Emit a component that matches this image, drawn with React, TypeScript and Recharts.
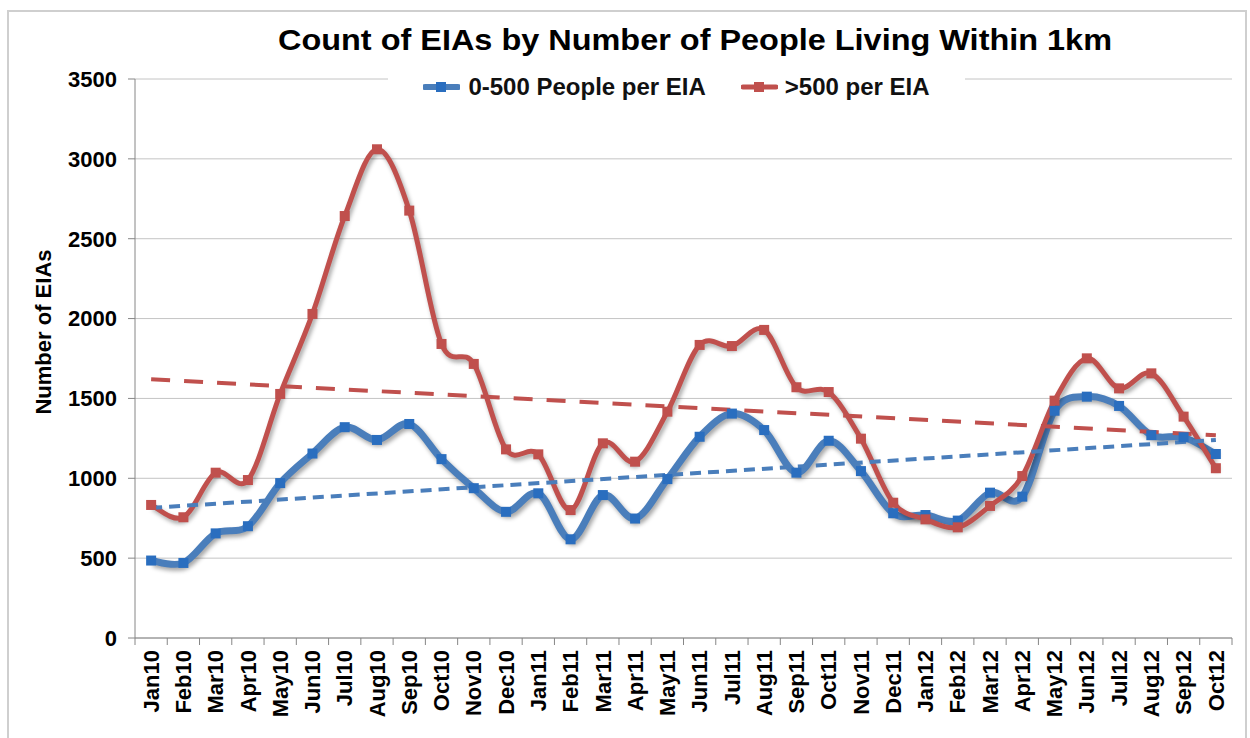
import React from "react";
import { LineChart, Line, XAxis, YAxis, CartesianGrid, ReferenceLine, Label } from "recharts";

const months = [
  "Jan10", "Feb10", "Mar10", "Apr10", "May10", "Jun10", "Jul10", "Aug10", "Sep10", "Oct10", "Nov10", "Dec10",
  "Jan11", "Feb11", "Mar11", "Apr11", "May11", "Jun11", "Jul11", "Aug11", "Sep11", "Oct11", "Nov11", "Dec11",
  "Jan12", "Feb12", "Mar12", "Apr12", "May12", "Jun12", "Jul12", "Aug12", "Sep12", "Oct12",
];

// 0-500 People per EIA
const upTo500 = [
  485, 470, 655, 700, 970, 1155, 1320, 1240, 1340, 1120, 938, 790,
  906, 618, 895, 748, 995, 1260, 1405, 1302, 1035, 1235, 1045, 781,
  770, 735, 910, 885, 1423, 1511, 1453, 1270, 1257, 1152,
];

// >500 per EIA
const over500 = [
  833, 756, 1035, 989, 1528, 2029, 2642, 3060, 2676, 1841, 1716, 1181,
  1150, 801, 1219, 1104, 1417, 1835, 1828, 1929, 1570, 1540, 1248, 847,
  743, 693, 827, 1014, 1486, 1751, 1563, 1657, 1386, 1063,
];

const yTicks = [0, 500, 1000, 1500, 2000, 2500, 3000, 3500];

// linear trend lines, start (Jan10) and end (Oct12) values
const trendUpTo500 = [815, 1240];
const trendOver500 = [1620, 1270];

const chartData = months.map((month, i) => ({
  month,
  low: upTo500[i],
  high: over500[i],
}));

const FONT = '"Liberation Sans", Arial, sans-serif';
const BLUE = "#4A7EBB";
const BLUE_MARK = "#2A6EBF";
const RED = "#C0504D";
const AXIS = "#868686";
const HALF_BAND = 16.13;

// Excel-like smoothed line (catmull-rom style bezier)
const excelSmooth = (context: any) => {
  let pts: number[][] = [];
  return {
    areaStart() {},
    areaEnd() {},
    lineStart() {
      pts = [];
    },
    point(x: number, y: number) {
      pts.push([+x, +y]);
    },
    lineEnd() {
      const n = pts.length;
      if (!n) return;
      context.moveTo(pts[0][0], pts[0][1]);
      for (let i = 0; i < n - 1; i++) {
        const p0 = pts[Math.max(i - 1, 0)];
        const p1 = pts[i];
        const p2 = pts[i + 1];
        const p3 = pts[Math.min(i + 2, n - 1)];
        context.bezierCurveTo(
          p1[0] + (p2[0] - p0[0]) / 6,
          p1[1] + (p2[1] - p0[1]) / 6,
          p2[0] - (p3[0] - p1[0]) / 6,
          p2[1] - (p3[1] - p1[1]) / 6,
          p2[0],
          p2[1]
        );
      }
    },
  };
};

const squareDot = (fill: string, size: number) => (props: any) => {
  const { cx, cy, index } = props;
  if (cx == null || cy == null) return <g key={index} />;
  return <rect key={index} x={cx - size / 2} y={cy - size / 2} width={size} height={size} fill={fill} />;
};

const MonthTick = (props: any) => {
  const { x, payload, index } = props;
  return (
    <g>
      <line x1={x - HALF_BAND} x2={x - HALF_BAND} y1={638} y2={645} stroke={AXIS} />
      {index === months.length - 1 && (
        <line x1={x + HALF_BAND} x2={x + HALF_BAND} y1={638} y2={645} stroke={AXIS} />
      )}
      <text
        x={x}
        y={650}
        transform={`rotate(-90, ${x}, 650)`}
        textAnchor="end"
        dy="0.35em"
        fontSize={22}
        fontWeight="bold"
        fontFamily={FONT}
        fill="#000"
      >
        {payload.value}
      </text>
    </g>
  );
};

const LegendIcon = ({ color, width }: { color: string; width: number }) => (
  <svg width={37} height={14} style={{ display: "block" }}>
    <line x1={2} y1={7} x2={35} y2={7} stroke={color} strokeWidth={width} strokeLinecap="round" />
    <rect x={13} y={2} width={10} height={10} fill={color === BLUE ? BLUE_MARK : color} />
  </svg>
);

export default function App() {
  return (
    <div style={{ position: "absolute", left: 0, top: 0, width: 1250, height: 738, background: "#fff", fontFamily: FONT }}>
      <style>{`.recharts-line { filter: drop-shadow(2px 3px 2px rgba(0,0,0,0.35)); }`}</style>
      <LineChart width={1250} height={738} data={chartData} margin={{ top: 79, right: 18, bottom: 0, left: 0 }}>
        <CartesianGrid vertical={false} stroke="#c4c4c4" />
        <XAxis
          dataKey="month"
          interval={0}
          height={100}
          padding={{ left: HALF_BAND, right: HALF_BAND }}
          tickLine={false}
          axisLine={{ stroke: AXIS }}
          tick={<MonthTick />}
        />
        <YAxis
          width={135}
          domain={[0, 3500]}
          ticks={yTicks}
          interval={0}
          tickSize={7}
          tickMargin={11}
          axisLine={{ stroke: AXIS }}
          tickLine={{ stroke: AXIS }}
          tick={{ fontSize: 22, fontWeight: "bold", fill: "#000", fontFamily: FONT }}
        >
          <Label
            content={() => (
              <text
                x={43}
                y={332}
                transform="rotate(-90, 43, 332)"
                textAnchor="middle"
                dominantBaseline="central"
                fontSize={22}
                fontWeight="bold"
                fontFamily={FONT}
                fill="#000"
              >
                Number of EIAs
              </text>
            )}
          />
        </YAxis>
        <Line
          dataKey="low"
          name="0-500 People per EIA"
          type={excelSmooth as any}
          stroke={BLUE}
          strokeWidth={7}
          dot={squareDot(BLUE_MARK, 10)}
          activeDot={false}
          isAnimationActive={false}
        />
        <Line
          dataKey="high"
          name=">500 per EIA"
          type={excelSmooth as any}
          stroke={RED}
          strokeWidth={5}
          dot={squareDot(RED, 10)}
          activeDot={false}
          isAnimationActive={false}
        />
        <ReferenceLine
          segment={[
            { x: months[0], y: trendUpTo500[0] },
            { x: months[months.length - 1], y: trendUpTo500[1] },
          ]}
          stroke={BLUE}
          strokeWidth={4}
          strokeDasharray="11 7"
        />
        <ReferenceLine
          segment={[
            { x: months[0], y: trendOver500[0] },
            { x: months[months.length - 1], y: trendOver500[1] },
          ]}
          stroke={RED}
          strokeWidth={4}
          strokeDasharray="19 14"
        />
      </LineChart>

      <svg width={1250} height={70} style={{ position: "absolute", left: 0, top: 0, pointerEvents: "none" }}>
        <text
          x={278}
          y={50}
          textLength={834}
          lengthAdjust="spacingAndGlyphs"
          fontSize={30}
          fontWeight="bold"
          fontFamily={FONT}
          fill="#000"
        >
          Count of EIAs by Number of People Living Within 1km
        </text>
      </svg>

      <div
        style={{
          position: "absolute",
          left: 388,
          top: 70,
          width: 577,
          height: 34,
          background: "#fff",
          display: "flex",
          alignItems: "center",
          justifyContent: "center",
          fontSize: 24,
          fontWeight: "bold",
          color: "#111",
        }}
      >
        <LegendIcon color={BLUE} width={6} />
        <span style={{ marginLeft: 8, marginRight: 35 }}>0-500 People per EIA</span>
        <LegendIcon color={RED} width={5} />
        <span style={{ marginLeft: 7 }}>&gt;500 per EIA</span>
      </div>

      <div
        style={{
          position: "absolute",
          left: 7,
          top: 10,
          width: 1236,
          height: 730,
          border: "2px solid #cfcfcf",
          pointerEvents: "none",
        }}
      />
    </div>
  );
}
